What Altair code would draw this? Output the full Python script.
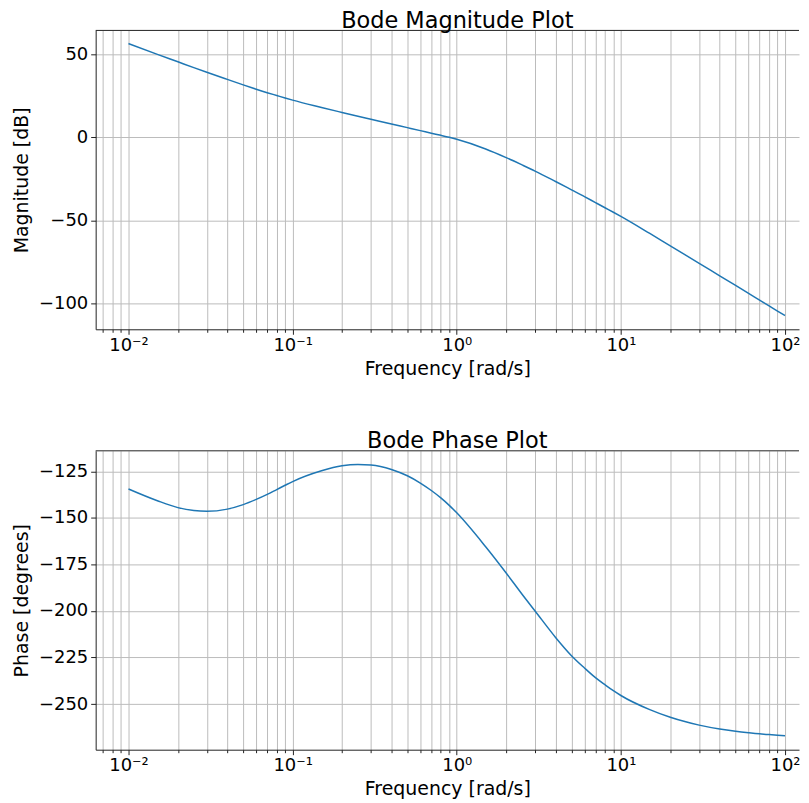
import altair as alt
import pandas as pd

# ---- data ----
freq = [0.01, 0.015, 0.02, 0.025, 0.03, 0.04, 0.05, 0.06, 0.07, 0.08, 0.09,
        0.1, 0.15, 0.2, 0.25, 0.3, 0.4, 0.5, 0.6, 0.7, 0.8, 0.9,
        1.0, 1.5, 2, 2.5, 3, 4, 5, 6, 7, 8, 9,
        10, 15, 20, 30, 40, 50, 60, 70, 80, 90, 100]

magnitude_db = [56.5, 50.0, 45.5, 42.0, 39.2, 34.9, 31.6, 29.0, 26.9, 25.2, 23.7,
                22.4, 18.0, 15.0, 12.7, 10.9, 8.05, 5.85, 4.05, 2.5, 1.2, 0.0,
                -1.2, -7.0, -12.2, -16.6, -20.3, -26.6, -31.6, -35.7, -39.3, -42.4, -45.1,
                -47.6, -57.9, -65.4, -75.9, -83.4, -89.2, -94.0, -98.0, -101.5, -104.6, -107.3]

phase_deg = [-134.5, -140.8, -144.5, -146.1, -146.5, -145.3, -142.9, -140.1, -137.4, -134.8, -132.5,
             -130.5, -124.7, -122.0, -121.3, -121.6, -124.0, -127.4, -131.3, -135.3, -139.3, -143.3,
             -147.3, -165.5, -179.6, -191.0, -200.0, -214.2, -224.0, -230.6, -235.8, -239.6, -242.8,
             -245.4, -253.0, -257.1, -261.3, -263.4, -264.6, -265.4, -266.0, -266.4, -266.75, -267.0]

major_ticks = [0.01, 0.1, 1, 10, 100]
major_labels = ["10⁻²", "10⁻¹", "10⁰", "10¹", "10²"]
minor_multipliers = [2, 3, 4, 5, 6, 7, 8, 9]
x_tick_values = [0.007, 0.008, 0.009] + [
    m * d for d in major_ticks[:-1] for m in ([1] + minor_multipliers)
] + [100]

mag_ticks = [-100, -50, 0, 50]
phase_ticks = [-250, -225, -200, -175, -150, -125]

W, H = 706, 300
x_domain = [10 ** -2.2, 10 ** 2.0853]
mag_domain = [-115.6, 64.4]
phase_domain = [-274.5, -114.0]

df = pd.DataFrame({"freq": freq, "mag": magnitude_db, "phase": phase_deg})

label_expr = " : ".join(
    f"datum.value == {v} ? '{l}'" for v, l in zip(major_ticks, major_labels)
) + " : ''"
major_test = "indexof([0.01, 0.1, 1, 10, 100], datum.value) >= 0"

x_axis = alt.Axis(
    values=x_tick_values,
    labelExpr=label_expr,
    title="Frequency [rad/s]",
    tickSize={"condition": {"test": major_test, "value": 5}, "value": 3},
    labelOverlap=False,
    labelFlush=False,
    labelPadding=2,
    titlePadding=5,
)

x_enc = alt.X("freq:Q", scale=alt.Scale(type="log", domain=x_domain, nice=False), axis=x_axis)


def panel(field, title, ytitle, ticks, domain):
    line = alt.Chart(df).mark_line(color="#1f77b4", strokeWidth=1.5, interpolate="monotone").encode(
        x=x_enc,
        y=alt.Y(f"{field}:Q",
                scale=alt.Scale(domain=domain, nice=False, zero=False),
                axis=alt.Axis(values=ticks, title=ytitle, minExtent=60, maxExtent=60,
                              titlePadding=4, labelPadding=3, tickSize=5)),
    )
    top_border = alt.Chart(pd.DataFrame({"k": [0]})).mark_rule(color="#222", strokeWidth=1).encode(
        x=alt.value(0), x2=alt.value(W), y=alt.value(0)
    )
    return alt.layer(line, top_border).properties(width=W, height=H, title=title)


chart = alt.vconcat(
    panel("mag", "Bode Magnitude Plot", "Magnitude [dB]", mag_ticks, mag_domain),
    panel("phase", "Bode Phase Plot", "Phase [degrees]", phase_ticks, phase_domain),
    spacing=52,
).properties(
    padding={"left": 5, "top": 0, "right": 0, "bottom": 2}
).configure_view(
    stroke=None
).configure_axis(
    labelFont="DejaVu Sans", titleFont="DejaVu Sans",
    labelFontSize=18, titleFontSize=19, titleFontWeight="normal",
    labelColor="black", titleColor="black",
    tickColor="#222", domainColor="#222", domainWidth=1,
    gridColor="#bcbcbc", gridWidth=1, gridOpacity=1,
).configure_title(
    font="DejaVu Sans", fontSize=22.5, fontWeight="normal", color="black",
    baseline="alphabetic", offset=-2.5, anchor="middle", dx=10,
)

chart.save("out.html", embed_options={"renderer": "svg", "actions": False})
